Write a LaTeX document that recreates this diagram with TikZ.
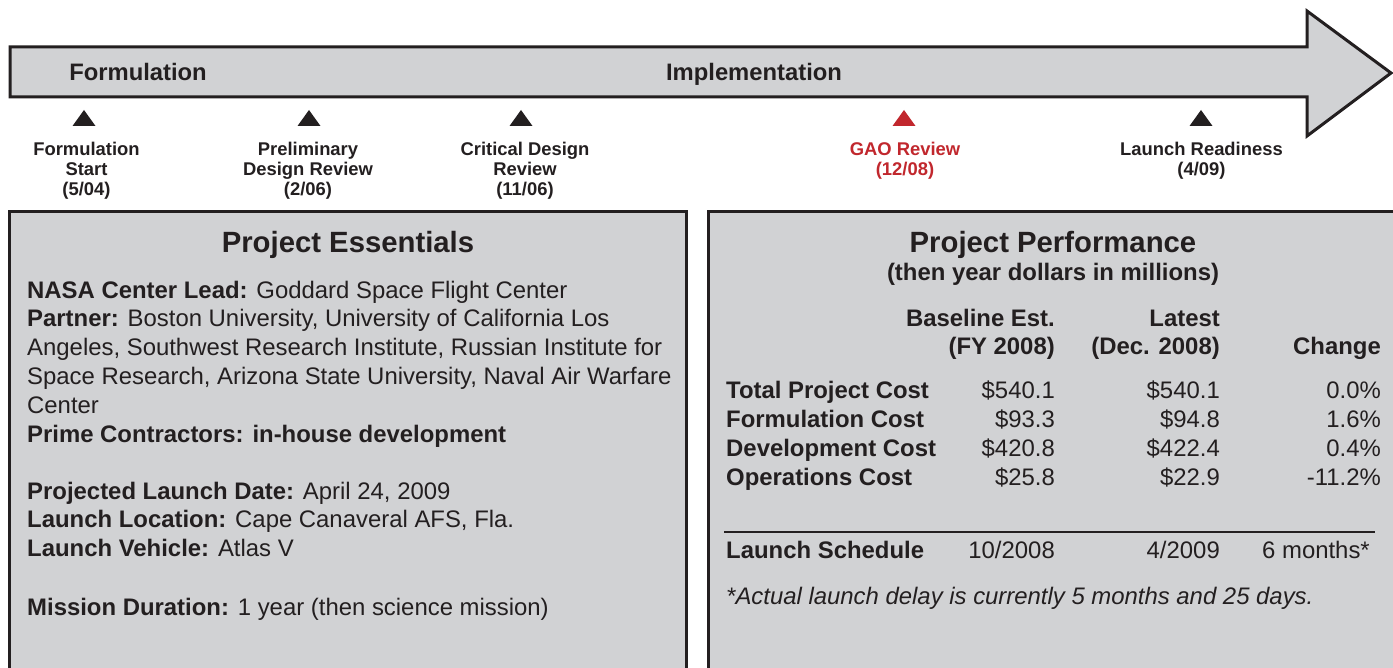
\documentclass[tikz,border=0pt]{standalone}
\usepackage{fontspec}
\setmainfont{Liberation Sans}
\definecolor{panelgray}{HTML}{D1D2D4}
\definecolor{ink}{HTML}{231F20}
\definecolor{gaored}{HTML}{C1272D}
\begin{document}
\begin{tikzpicture}[x=1pt,y=-1pt,
  panel/.style={draw=ink, fill=panelgray, line width=3pt},
  phaselabel/.style={font=\fontsize{23.8}{28}\selectfont\bfseries, text=ink, inner sep=0pt, text height=17pt, text depth=0pt},
  mstext/.style={font=\fontsize{18.4}{20}\selectfont\bfseries, text=ink, align=center, anchor=north, inner sep=0pt},
  ptitle/.style={font=\fontsize{29.3}{32}\selectfont\bfseries, text=ink, inner sep=0pt, text height=21pt, text depth=0pt},
  body/.style={font=\fontsize{23.9}{28.8}\selectfont, text=ink, align=left, anchor=north west, inner sep=0pt},
  cell/.style={font=\fontsize{23.9}{28.8}\selectfont, text=ink, inner sep=0pt, text height=17pt, text depth=0pt},
  bcell/.style={cell, font=\fontsize{23.9}{28.8}\selectfont\bfseries}
]
\useasboundingbox (0,0) rectangle (1393,668);
\clip (0,0) rectangle (1393,668);
\fill[white] (0,0) rectangle (1393,668);

% timeline arrow
\draw[panel, line join=miter] (10,47) -- (1307,47) -- (1307,11) -- (1391,73) -- (1307,136) -- (1307,97) -- (10,97) -- cycle;
\node[phaselabel] (formulation) at (138,72) {Formulation};
\node[phaselabel] (implementation) at (754,72) {Implementation};

% milestone triangles
\foreach \x/\c in {84/ink, 309/ink, 521/ink, 904/gaored, 1201/ink}
  \fill[\c] (\x,110) -- (\x+11.5,126) -- (\x-11.5,126) -- cycle;

\node[mstext] (ms1) at (86.5,141.5) {Formulation\\Start\\(5/04)};
\node[mstext] (ms2) at (308,141.5) {Preliminary\\Design Review\\(2/06)};
\node[mstext] (ms3) at (525,141.5) {Critical Design\\Review\\(11/06)};
\node[mstext, text=gaored] (ms4) at (905,142) {GAO Review\\(12/08)};
\node[mstext] (ms5) at (1201.5,142) {Launch Readiness\\(4/09)};

% panels
\draw[panel] (9.7,211.7) rectangle (686.6,720);
\draw[panel] (708.5,211.7) rectangle (1420,720);

% Project Essentials
\node[ptitle] (esstitle) at (348,242) {Project Essentials};
\node[body] (ess1) at (27,280.5) {\textbf{NASA Center Lead:} Goddard Space Flight Center\\
\textbf{Partner:} Boston University, University of California Los\\
Angeles, Southwest Research Institute, Russian Institute for\\
Space Research, Arizona State University, Naval Air Warfare\\
Center\\
\textbf{Prime Contractors: in-house development}};
\node[body] (ess2) at (27,481.5) {\textbf{Projected Launch Date:} April 24, 2009\\
\textbf{Launch Location:} Cape Canaveral AFS, Fla.\\
\textbf{Launch Vehicle:} Atlas V};
\node[body] (ess3) at (27,597.5) {\textbf{Mission Duration:} 1 year (then science mission)};

% Project Performance
\node[ptitle] (perftitle) at (1053,242) {Project Performance};
\node[bcell] (perfsub) at (1053,272) {(then year dollars in millions)};

\node[bcell, anchor=east] (h1a) at (1055,318) {Baseline Est.};
\node[bcell, anchor=east] (h1b) at (1055,346) {(FY 2008)};
\node[bcell, anchor=east] (h2a) at (1220,318) {Latest};
\node[bcell, anchor=east] (h2b) at (1220,346) {(Dec. 2008)};
\node[bcell, anchor=east] (h3) at (1381,346) {Change};

\foreach \y/\lab/\a/\b/\c [count=\i] in {390/Total Project Cost/\$540.1/\$540.1/0.0\%,
  419/Formulation Cost/\$93.3/\$94.8/1.6\%,
  448/Development Cost/\$420.8/\$422.4/0.4\%,
  477/Operations Cost/\$25.8/\$22.9/-11.2\%}{
  \node[bcell, anchor=west] (r\i l) at (726,\y) {\lab};
  \node[cell, anchor=east] (r\i a) at (1055,\y) {\a};
  \node[cell, anchor=east] (r\i b) at (1220,\y) {\b};
  \node[cell, anchor=east] (r\i c) at (1381,\y) {\c};
}

\draw[ink, line width=1.3pt] (724,532) -- (1375,532);

\node[bcell, anchor=west] (lsl) at (726,550) {Launch Schedule};
\node[cell, anchor=east] (lsa) at (1055,550) {10/2008};
\node[cell, anchor=east] (lsb) at (1220,550) {4/2009};
\node[cell, anchor=east] (lsc) at (1370,550) {6 months*};

\node[cell, anchor=west, font=\fontsize{23.9}{28.8}\selectfont\itshape] (foot) at (726,596) {*Actual launch delay is currently 5 months and 25 days.};
\end{tikzpicture}
\end{document}
